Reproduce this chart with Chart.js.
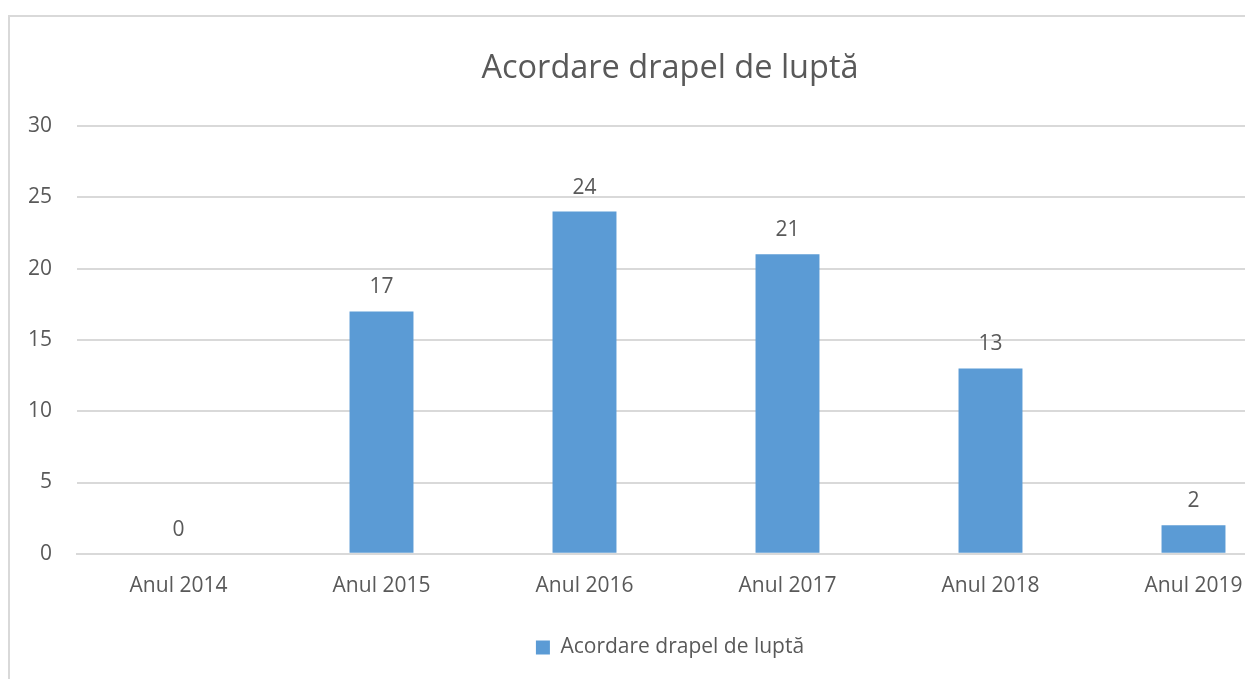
<!DOCTYPE html>
<html>
<head>
<meta charset="utf-8">
<script src="https://cdn.jsdelivr.net/npm/chart.js@4"></script>
<style>
  html, body { margin: 0; padding: 0; background: #fff; overflow: hidden; width: 1245px; height: 679px; }
  #frame { position: absolute; left: 8px; top: 15px; width: 1320px; height: 677px; border: 2px solid #d9d9d9; background: #fff; }
  #chart { display: block; }
</style>
</head>
<body>
<div id="frame"><canvas id="chart" width="1320" height="677"></canvas></div>
<script>
const categories = ["Anul 2014", "Anul 2015", "Anul 2016", "Anul 2017", "Anul 2018", "Anul 2019"];
const values = [0, 17, 24, 21, 13, 2];
const seriesName = "Acordare drapel de luptă";
const yTicks = [0, 5, 10, 15, 20, 25, 30];

const textColor = "#595959";
const gridColor = "#d9d9d9";
const barColor = "#5b9bd5";
const fontFamily = "'Open Sans', sans-serif";

// draw the value above each bar
const valueLabels = {
  id: "valueLabels",
  afterDatasetsDraw(chart) {
    const ctx = chart.ctx;
    const meta = chart.getDatasetMeta(0);
    ctx.save();
    ctx.fillStyle = textColor;
    ctx.font = "21px " + fontFamily;
    ctx.textAlign = "center";
    ctx.textBaseline = "middle";
    meta.data.forEach((bar, i) => {
      ctx.fillText(String(values[i]), bar.x, bar.y - 24);
    });
    ctx.restore();
  }
};

new Chart(document.getElementById("chart"), {
  type: "bar",
  data: {
    labels: categories,
    datasets: [{
      label: seriesName,
      data: values,
      backgroundColor: barColor,
      borderWidth: 0,
      categoryPercentage: 1,
      barPercentage: 0.315
    }]
  },
  options: {
    responsive: false,
    animation: false,
    layout: { padding: { top: 0, right: 17, bottom: 26, left: 17 } },
    plugins: {
      title: {
        display: true,
        text: seriesName,
        color: textColor,
        font: { family: fontFamily, size: 32.5, weight: "normal" },
        padding: { top: 32, bottom: 38 }
      },
      legend: {
        position: "bottom",
        labels: {
          color: textColor,
          font: { family: fontFamily, size: 21 },
          boxWidth: 14,
          boxHeight: 14,
          padding: 26
        }
      },
      tooltip: { enabled: false }
    },
    scales: {
      x: {
        grid: { display: false },
        border: { display: true, color: gridColor, width: 2 },
        ticks: { color: textColor, font: { family: fontFamily, size: 21 }, padding: 12, maxRotation: 0 }
      },
      y: {
        min: 0,
        max: 30,
        afterBuildTicks(scale) { scale.ticks = yTicks.map(v => ({ value: v })); },
        afterFit(scale) { scale.width = 50; },
        grid: { color: gridColor, lineWidth: 2, drawTicks: false },
        border: { display: false },
        ticks: { color: textColor, font: { family: fontFamily, size: 21 }, padding: 25 }
      },
      // empty right margin so the title and legend stay centred on the frame
      yRight: {
        position: "right",
        min: 0,
        max: 30,
        afterFit(scale) { scale.width = 18; },
        grid: { display: false },
        border: { display: false },
        ticks: { display: false }
      }
    }
  },
  plugins: [valueLabels]
});
</script>
</body>
</html>
